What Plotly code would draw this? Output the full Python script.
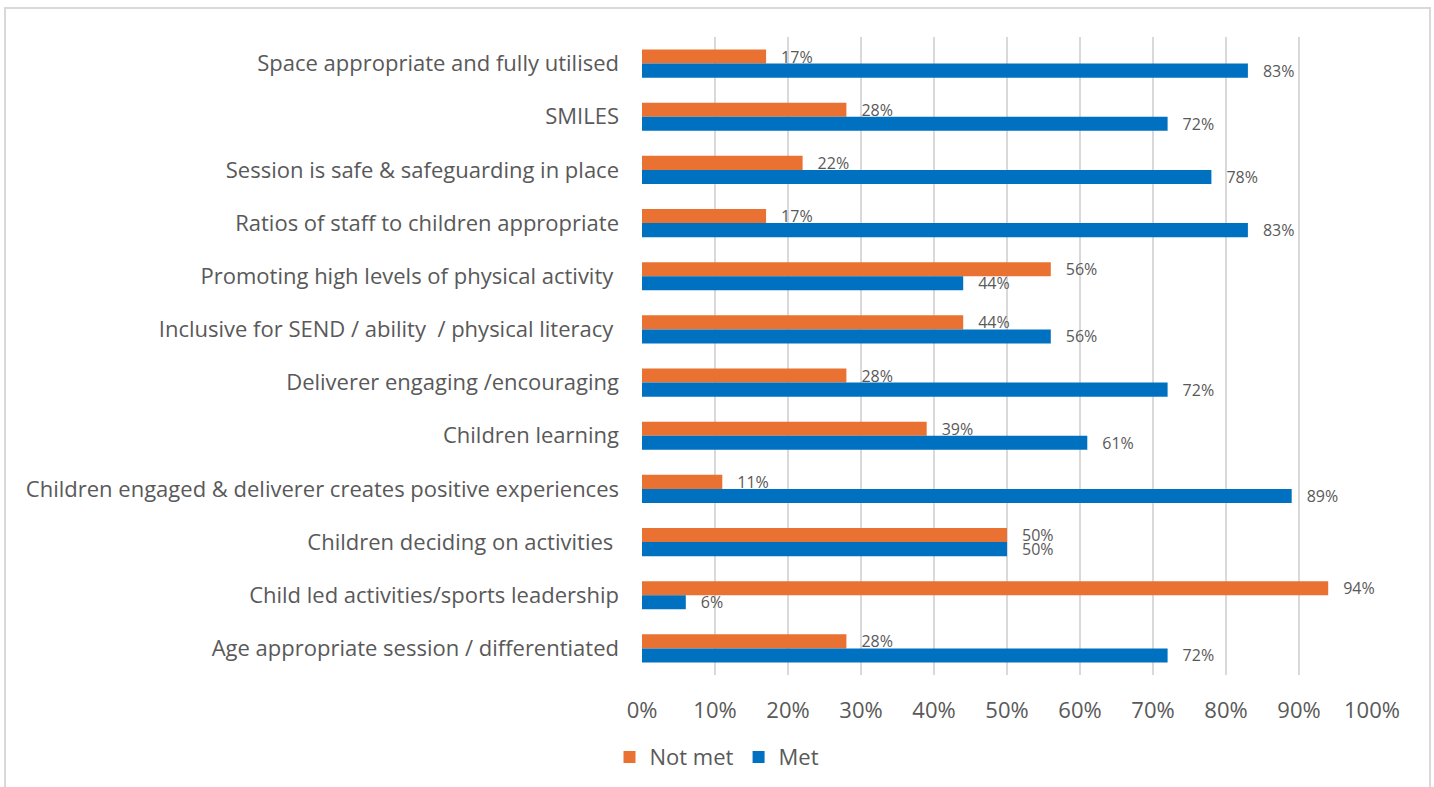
import plotly.graph_objects as go

categories = [
    "Space appropriate and fully utilised",
    "SMILES",
    "Session is safe & safeguarding in place",
    "Ratios of staff to children appropriate",
    "Promoting high levels of physical activity ",
    "Inclusive for SEND / ability  / physical literacy ",
    "Deliverer engaging /encouraging",
    "Children learning",
    "Children engaged & deliverer creates positive experiences",
    "Children deciding on activities ",
    "Child led activities/sports leadership",
    "Age appropriate session / differentiated",
]
not_met = [17, 28, 22, 17, 56, 44, 28, 39, 11, 50, 94, 28]
met = [83, 72, 78, 83, 44, 56, 72, 61, 89, 50, 6, 72]

TEXT = "#595959"
GRID = "#d9d9d9"
FONT = "Open Sans, Liberation Sans, sans-serif"

# keep trailing spaces visible in the category labels
labels = [c.replace(" ", "\u00a0") if c.endswith(" ") else c for c in categories]


def bar(name, values, color):
    return go.Bar(
        name=name, y=labels, x=values, orientation="h",
        marker=dict(color=color, line=dict(width=0)),
        text=[f"{v}%" for v in values],
        texttemplate="\u2002\u2005%{text}", textposition="outside",
        constraintext="none",
        textfont=dict(size=16, color=TEXT, family=FONT), cliponaxis=False,
        hoverinfo="x+y+name",
    )


fig = go.Figure()
fig.add_trace(bar("Not met", not_met, "#E97132"))
fig.add_trace(bar("Met", met, "#0070C0"))

fig.update_layout(
    width=1434, height=787,
    margin=dict(l=642, r=62, t=37, b=112),
    paper_bgcolor="white", plot_bgcolor="white",
    barmode="group", bargap=0.47, bargroupgap=0,
    font=dict(family=FONT, color=TEXT, size=22),
    showlegend=True,
    legend=dict(
        orientation="h", xref="container", x=0.5, xanchor="center",
        yref="container", y=0.038, yanchor="middle",
        font=dict(size=22, color=TEXT), traceorder="normal",
        itemwidth=30,
    ),
    xaxis=dict(
        range=[0, 100], dtick=10, ticksuffix="%",
        showgrid=True, gridcolor=GRID, gridwidth=2,
        zeroline=False, showline=False, ticks="",
        tickfont=dict(size=22, color=TEXT), ticklabelstandoff=20,
        fixedrange=True,
    ),
    yaxis=dict(
        autorange="reversed", showgrid=False, zeroline=False,
        showline=False, ticks="",
        tickfont=dict(size=22, color=TEXT), ticklabelstandoff=22,
    ),
    shapes=[
        # outer chart frame
        dict(type="rect", xref="paper", yref="paper",
             x0=-0.8726, x1=1.0795, y0=-0.3, y1=1.0455,
             line=dict(color=GRID, width=2), layer="below"),
    ],
)

fig.write_html("out.html")
